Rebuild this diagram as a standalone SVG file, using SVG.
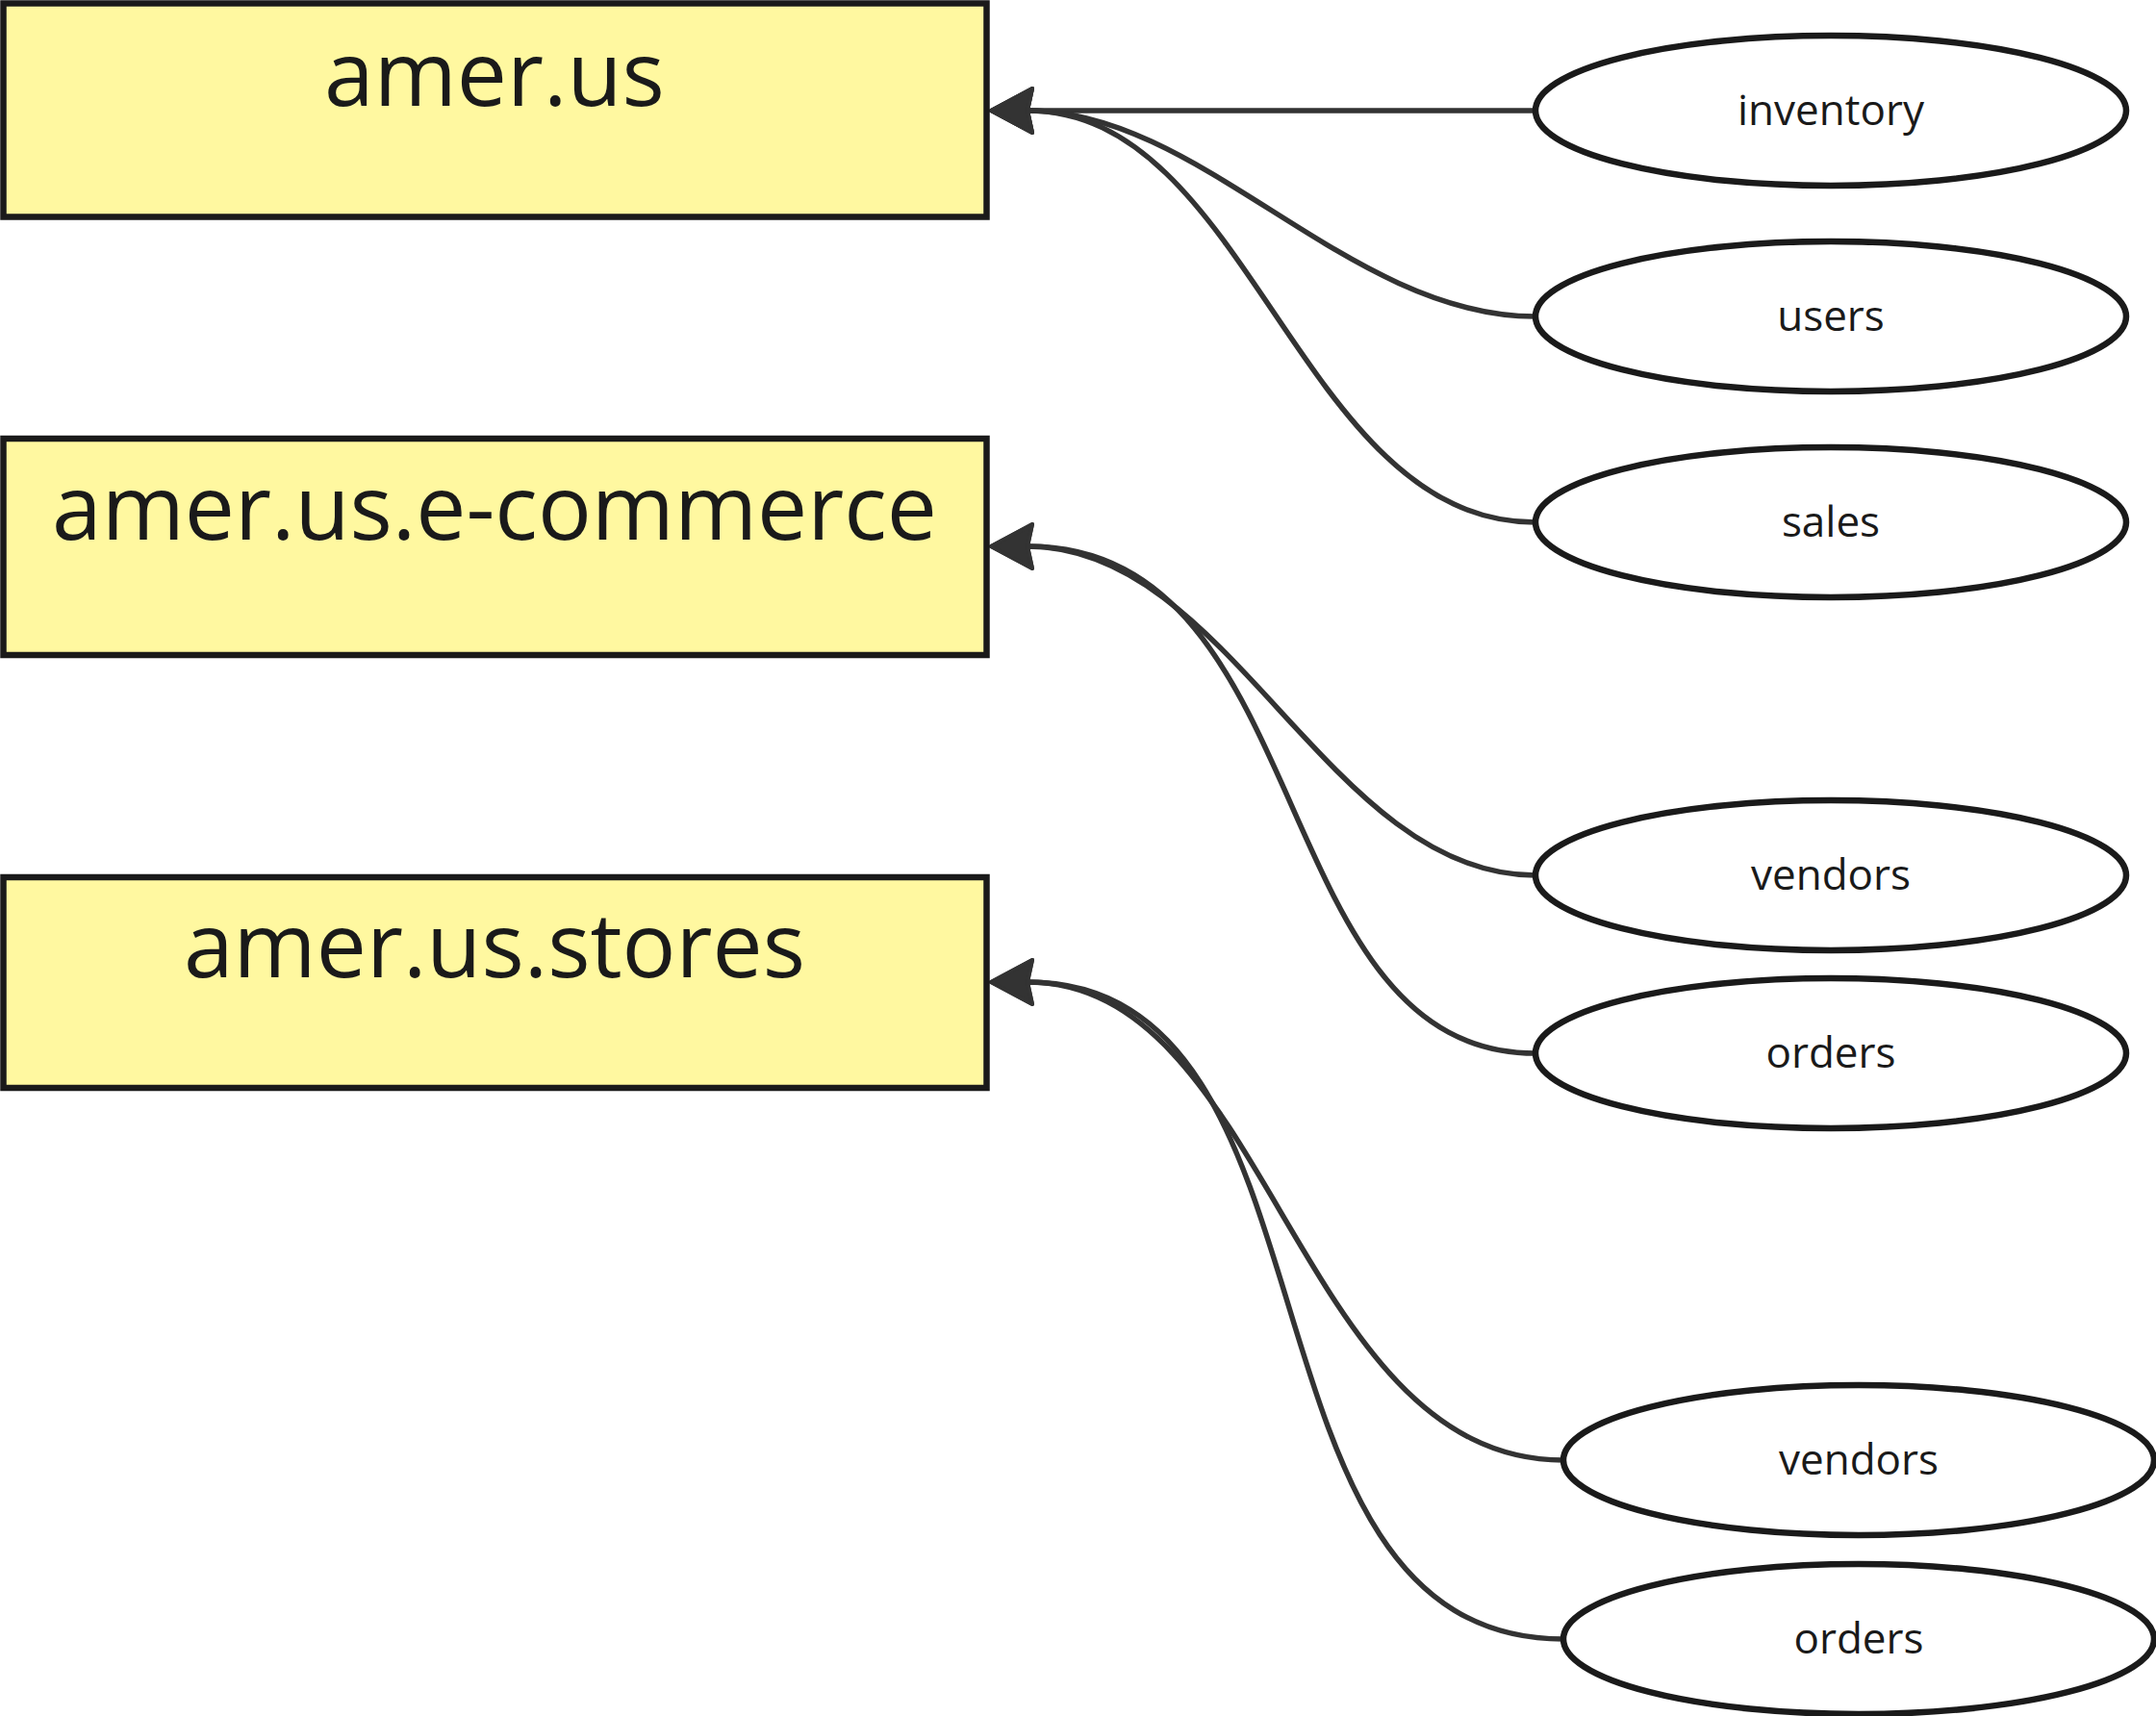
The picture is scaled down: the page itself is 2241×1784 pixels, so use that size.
<svg xmlns="http://www.w3.org/2000/svg" width="2241" height="1784" viewBox="0 0 2241 1784">
<style>
.box{fill:#fff8a0;stroke:#1a1a1a;stroke-width:6.5}
.ell{fill:#ffffff;stroke:#1a1a1a;stroke-width:6.5}
.btxt{font-family:"Open Sans","Noto Sans",sans-serif;font-size:93px;fill:#1a1a1a;text-anchor:middle}
.etxt{font-family:"Open Sans","Noto Sans",sans-serif;font-size:44px;fill:#1a1a1a;text-anchor:middle}
.edge{fill:none;stroke:#333333;stroke-width:5.5;marker-end:url(#arr)}
</style>
<defs>
<marker id="arr" markerUnits="userSpaceOnUse" viewBox="-10 -30 60 60" markerWidth="60" markerHeight="60" refX="0" refY="0" orient="auto" overflow="visible">
<path d="M38,0 L-5,-23 L0,0 L-5,23 Z" fill="#333333" stroke="#333333" stroke-width="4" stroke-linejoin="round"/>
</marker>
</defs>
<g id="edges">
<path class="edge" d="M1596,115 L1068,115"/>
<path class="edge" d="M1596,329 C1400,329 1250,115 1068,115"/>
<path class="edge" d="M1596,543 C1350,543 1300,115 1068,115"/>
<path class="edge" d="M1596,910 C1380,910 1280,568 1068,568"/>
<path class="edge" d="M1596,1095 C1312,1095 1373,568 1068,568"/>
<path class="edge" d="M1625,1518 C1347,1518 1320,1021 1068,1021"/>
<path class="edge" d="M1625,1704 C1268,1704 1410,1021 1068,1021"/>
</g>
<g id="amer_us">
<rect class="box" x="3.5" y="3.5" width="1022" height="222"/>
<text class="btxt" x="514" y="110">amer.us</text>
</g>
<g id="amer_us_ecommerce">
<rect class="box" x="3.5" y="456" width="1022" height="225"/>
<text class="btxt" x="514" y="561">amer.us.e-commerce</text>
</g>
<g id="amer_us_stores">
<rect class="box" x="3.5" y="912" width="1022" height="219"/>
<text class="btxt" x="514" y="1016">amer.us.stores</text>
</g>
<g id="inventory">
<ellipse class="ell" cx="1903" cy="115" rx="307" ry="78"/>
<text class="etxt" x="1903" y="130">inventory</text>
</g>
<g id="users">
<ellipse class="ell" cx="1903" cy="329" rx="307" ry="78"/>
<text class="etxt" x="1903" y="344">users</text>
</g>
<g id="sales">
<ellipse class="ell" cx="1903" cy="543" rx="307" ry="78"/>
<text class="etxt" x="1903" y="558">sales</text>
</g>
<g id="vendors_ecommerce">
<ellipse class="ell" cx="1903" cy="910" rx="307" ry="78"/>
<text class="etxt" x="1903" y="925">vendors</text>
</g>
<g id="orders_ecommerce">
<ellipse class="ell" cx="1903" cy="1095" rx="307" ry="78"/>
<text class="etxt" x="1903" y="1110">orders</text>
</g>
<g id="vendors_stores">
<ellipse class="ell" cx="1932" cy="1518" rx="307" ry="78"/>
<text class="etxt" x="1932" y="1533">vendors</text>
</g>
<g id="orders_stores">
<ellipse class="ell" cx="1932" cy="1704" rx="307" ry="78"/>
<text class="etxt" x="1932" y="1719">orders</text>
</g>
</svg>
